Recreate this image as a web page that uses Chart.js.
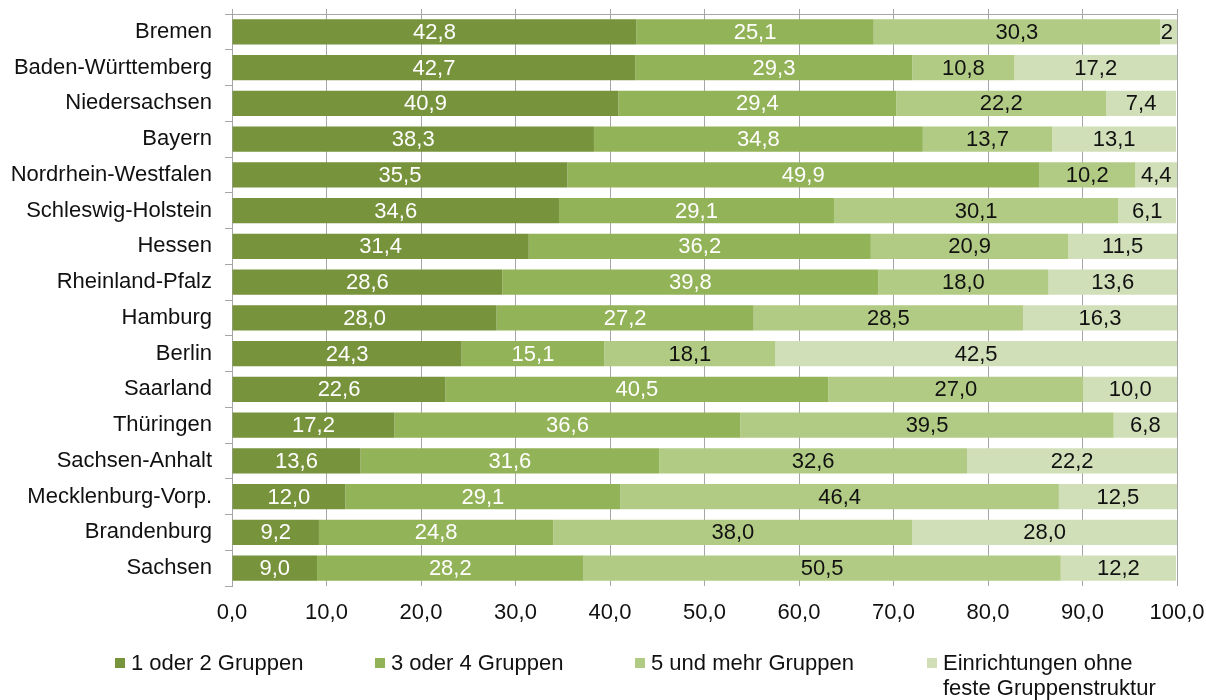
<!DOCTYPE html>
<html lang="de">
<head>
<meta charset="utf-8">
<script src="https://cdn.jsdelivr.net/npm/chart.js@4"></script>
<style>
  body { margin: 0; background: #fff; }
  #wrap { position: relative; width: 1206px; height: 700px; font-family: "Liberation Sans", Arial, sans-serif; }
  #chart { position: absolute; left: 0; top: 0; }
  .leg { position: absolute; top: 650px; font-size: 22px; line-height: 25px; color: #111; white-space: nowrap; }
  .sq { position: absolute; top: 658px; width: 10px; height: 10px; }
</style>
</head>
<body>
<div id="wrap">
  <canvas id="chart" width="1206" height="700"></canvas>
  <div id="legend"></div>
</div>
<script>
// Bundesländer, top to bottom
const states = ['Bremen', 'Baden-Württemberg', 'Niedersachsen', 'Bayern', 'Nordrhein-Westfalen',
  'Schleswig-Holstein', 'Hessen', 'Rheinland-Pfalz', 'Hamburg', 'Berlin', 'Saarland', 'Thüringen',
  'Sachsen-Anhalt', 'Mecklenburg-Vorp.', 'Brandenburg', 'Sachsen'];

const seriesNames = ['1 oder 2 Gruppen', '3 oder 4 Gruppen', '5 und mehr Gruppen',
  ['Einrichtungen ohne', 'feste Gruppenstruktur']];

const oneOrTwo = [42.8, 42.7, 40.9, 38.3, 35.5, 34.6, 31.4, 28.6, 28.0, 24.3, 22.6, 17.2, 13.6, 12.0, 9.2, 9.0];
const threeOrFour = [25.1, 29.3, 29.4, 34.8, 49.9, 29.1, 36.2, 39.8, 27.2, 15.1, 40.5, 36.6, 31.6, 29.1, 24.8, 28.2];
const fiveOrMore = [30.3, 10.8, 22.2, 13.7, 10.2, 30.1, 20.9, 18.0, 28.5, 18.1, 27.0, 39.5, 32.6, 46.4, 38.0, 50.5];
const noGroups = [2, 17.2, 7.4, 13.1, 4.4, 6.1, 11.5, 13.6, 16.3, 42.5, 10.0, 6.8, 22.2, 12.5, 28.0, 12.2];

const xTicks = [0, 10, 20, 30, 40, 50, 60, 70, 80, 90, 100];

// labels shown without decimals in the original: [series, row]
const plainLabels = [[3, 0]];

const colors = ['#77933c', '#93b358', '#b2cb84', '#d1dfb9'];
const labelColors = ['#fff', '#fff', '#111', '#111'];

const FONT = '"Liberation Sans", Arial, sans-serif';
const fmt = v => v.toFixed(1).replace('.', ',');

// labels in the middle of each segment
const segmentLabels = {
  id: 'segmentLabels',
  afterDatasetsDraw(chart) {
    const ctx = chart.ctx;
    ctx.save();
    ctx.font = '22px ' + FONT;
    ctx.textAlign = 'center';
    ctx.textBaseline = 'middle';
    chart.data.datasets.forEach((ds, di) => {
      chart.getDatasetMeta(di).data.forEach((bar, i) => {
        const v = ds.data[i];
        const plain = plainLabels.some(p => p[0] === di && p[1] === i);
        const text = plain ? String(Math.round(v)) : fmt(v);
        const right = Math.min(bar.x, chart.chartArea.right);
        let x = (right + bar.base) / 2;
        if (plain) x = right - ctx.measureText(text).width / 2 - 4;
        ctx.fillStyle = labelColors[di];
        ctx.fillText(text, x, bar.y + 1);
      });
    });
    ctx.restore();
  }
};

const noPad = s => { s.paddingTop = 0; s.paddingBottom = 0; s.paddingLeft = 0; s.paddingRight = 0; };

const datasets = [oneOrTwo, threeOrFour, fiveOrMore, noGroups].map((d, i) => ({
  label: seriesNames[i],
  data: d,
  backgroundColor: colors[i],
  borderWidth: 0,
  categoryPercentage: 1,
  barPercentage: 0.7
}));

new Chart(document.getElementById('chart'), {
  type: 'bar',
  data: { labels: states, datasets },
  options: {
    indexAxis: 'y',
    responsive: false,
    animation: false,
    layout: { padding: { left: 0, right: 29, top: 0, bottom: 0 } },
    plugins: { legend: { display: false }, tooltip: { enabled: false } },
    scales: {
      x: {
        stacked: true,
        min: 0,
        max: 100,
        afterBuildTicks: s => { s.ticks = xTicks.map(v => ({ value: v })); },
        afterFit: s => { s.height = 114; noPad(s); },
        grid: { color: '#a6a6a6', lineWidth: 1, drawTicks: false },
        border: { display: false },
        ticks: {
          padding: 14,
          color: '#111',
          font: { family: FONT, size: 22 },
          callback: v => fmt(v)
        }
      },
      xTop: {
        position: 'top',
        min: 0,
        max: 100,
        afterBuildTicks: s => { s.ticks = xTicks.map(v => ({ value: v })); },
        afterFit: s => { s.height = 14; noPad(s); },
        grid: { color: '#a6a6a6', drawOnChartArea: false, tickLength: 5 },
        border: { color: '#a6a6a6' },
        ticks: { display: false }
      },
      y: {
        stacked: true,
        afterFit: s => { s.width = 232; noPad(s); },
        grid: { offset: true, drawOnChartArea: false, tickLength: 7, color: '#a6a6a6' },
        border: { color: '#a6a6a6' },
        ticks: {
          padding: 13,
          color: '#111',
          font: { family: FONT, size: 22 }
        }
      }
    }
  },
  plugins: [segmentLabels]
});

// legend underneath
const legend = document.getElementById('legend');
const squareX = [115, 375, 635, 927];
seriesNames.forEach((name, i) => {
  const sq = document.createElement('div');
  sq.className = 'sq';
  sq.style.left = squareX[i] + 'px';
  sq.style.background = colors[i];
  legend.appendChild(sq);
  const t = document.createElement('div');
  t.className = 'leg';
  t.style.left = (squareX[i] + 16) + 'px';
  t.innerHTML = [].concat(name).join('<br>');
  legend.appendChild(t);
});
</script>
</body>
</html>
